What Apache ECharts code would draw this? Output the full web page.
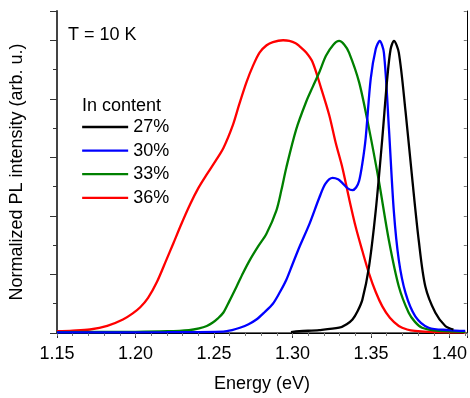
<!DOCTYPE html>
<html>
<head>
<meta charset="utf-8">
<script src="https://cdn.jsdelivr.net/npm/echarts@6/dist/echarts.min.js"></script>
<style>
html,body{margin:0;padding:0;background:#fff;}
#c{width:470px;height:398px;}
</style>
</head>
<body>
<div id="c"></div>
<script>
// Data (energy in eV, normalized intensity)
var seriesNames = ['27%', '30%', '33%', '36%'];
var seriesColors = ['#000000', '#0000ff', '#008000', '#ff0000'];

var e27 = [1.299, 1.3044, 1.317, 1.3297, 1.3345, 1.3382, 1.3415, 1.3445, 1.3487, 1.353, 1.3572, 1.3603, 1.3625, 1.3646, 1.3677, 1.372, 1.3762, 1.3804, 1.3846, 1.391, 1.3973, 1.4025];
var i27 = [0.003, 0.006, 0.010, 0.018, 0.030, 0.046, 0.075, 0.114, 0.226, 0.418, 0.666, 0.868, 0.970, 0.998, 0.958, 0.756, 0.530, 0.316, 0.159, 0.069, 0.024, 0.012];

var e30 = [1.15, 1.22, 1.256, 1.2615, 1.2665, 1.272, 1.277, 1.282, 1.2875, 1.292, 1.296, 1.300, 1.3044, 1.3108, 1.3171, 1.321, 1.3255, 1.329, 1.3318, 1.335, 1.3382, 1.3405, 1.3424, 1.3445, 1.3466, 1.3498, 1.353, 1.3555, 1.3582, 1.3614, 1.3645, 1.3677, 1.372, 1.3782, 1.3867, 1.3994, 1.41];
var i30 = [0.002, 0.003, 0.005, 0.010, 0.018, 0.030, 0.046, 0.070, 0.100, 0.140, 0.181, 0.235, 0.294, 0.373, 0.463, 0.510, 0.530, 0.525, 0.512, 0.495, 0.488, 0.497, 0.519, 0.580, 0.666, 0.868, 0.970, 0.998, 0.958, 0.699, 0.418, 0.249, 0.136, 0.057, 0.018, 0.010, 0.007];

var e33 = [1.15, 1.20, 1.22, 1.234, 1.2405, 1.2454, 1.249, 1.2525, 1.256, 1.2597, 1.2644, 1.2685, 1.2728, 1.278, 1.2834, 1.2897, 1.293, 1.296, 1.3023, 1.3087, 1.3128, 1.317, 1.3213, 1.326, 1.3297, 1.333, 1.336, 1.3424, 1.3487, 1.355, 1.3614, 1.3677, 1.374, 1.378, 1.3825, 1.393, 1.41];
var i33 = [0.003, 0.004, 0.006, 0.010, 0.016, 0.024, 0.035, 0.050, 0.070, 0.108, 0.159, 0.205, 0.249, 0.295, 0.339, 0.418, 0.490, 0.564, 0.695, 0.790, 0.840, 0.890, 0.947, 0.985, 0.998, 0.985, 0.958, 0.857, 0.699, 0.519, 0.316, 0.159, 0.069, 0.038, 0.018, 0.007, 0.004];

var e36 = [1.15, 1.16, 1.171, 1.182, 1.192, 1.198, 1.203, 1.208, 1.2137, 1.2196, 1.224, 1.229, 1.2348, 1.240, 1.2454, 1.251, 1.256, 1.262, 1.266, 1.2707, 1.275, 1.279, 1.2835, 1.2875, 1.294, 1.298, 1.302, 1.3044, 1.3087, 1.3128, 1.318, 1.3234, 1.3275, 1.3318, 1.336, 1.3403, 1.3445, 1.3487, 1.353, 1.3572, 1.362, 1.3677, 1.373, 1.378, 1.39, 1.41];
var i36 = [0.006, 0.008, 0.012, 0.024, 0.046, 0.066, 0.088, 0.120, 0.175, 0.249, 0.305, 0.370, 0.440, 0.495, 0.542, 0.588, 0.632, 0.710, 0.780, 0.857, 0.915, 0.958, 0.983, 0.994, 1.000, 0.998, 0.990, 0.980, 0.958, 0.925, 0.840, 0.744, 0.650, 0.564, 0.460, 0.361, 0.280, 0.204, 0.140, 0.091, 0.052, 0.024, 0.012, 0.007, 0.003, 0.002];

var energies = [e27, e30, e33, e36];
var intensities = [i27, i30, i33, i36];

function pairs(xs, ys) {
  var out = [];
  for (var k = 0; k < xs.length; k++) out.push([xs[k], ys[k]]);
  return out;
}

var FONT = 'Liberation Sans, Arial, Helvetica, sans-serif';
var chart = echarts.init(document.getElementById('c'), null, {renderer: 'canvas'});

var series = seriesNames.map(function (n, idx) {
  return {
    name: n,
    type: 'line',
    xAxisIndex: 0,
    yAxisIndex: 0,
    data: pairs(energies[idx], intensities[idx]),
    symbol: 'none',
    showSymbol: false,
    smooth: 0.3,
    lineStyle: {color: seriesColors[idx], width: 2.3},
    itemStyle: {color: seriesColors[idx]},
    z: 10 - idx,
    animation: false
  };
});

var option = {
  animation: false,
  backgroundColor: '#fff',
  grid: {left: 56, right: 3, top: 11, bottom: 61, containLabel: false},
  xAxis: [{
    type: 'value', position: 'bottom', min: 1.15, max: 1.411, interval: 0.05,
    name: 'Energy (eV)', nameLocation: 'middle', nameGap: 42,
    nameTextStyle: {fontFamily: FONT, fontSize: 18, color: '#000'},
    axisLine: {show: true, lineStyle: {color: '#333', width: 1.5}},
    axisTick: {show: true, inside: false, length: 5, lineStyle: {color: '#333', width: 1}},
    minorTick: {show: true, splitNumber: 5, length: 3, lineStyle: {color: '#333', width: 1}},
    axisLabel: {show: true, fontFamily: FONT, fontSize: 18, color: '#000', margin: 12, showMaxLabel: false,
      formatter: function (v) { return v.toFixed(2); }},
    splitLine: {show: false}, minorSplitLine: {show: false}
  }, {
    type: 'value', position: 'top', min: 1.15, max: 1.411, interval: 0.05,
    axisLine: {show: true, lineStyle: {color: '#000', width: 1}},
    axisTick: {show: true, inside: true, length: 3, lineStyle: {color: '#777', width: 1}},
    minorTick: {show: true, splitNumber: 5, length: 3, lineStyle: {color: '#777', width: 1}},
    axisLabel: {show: false},
    splitLine: {show: false}
  }],
  yAxis: [{
    type: 'value', position: 'left', min: 0, max: 1.1, interval: 0.2,
    name: 'Normalized PL intensity (arb. u.)', nameLocation: 'middle', nameGap: 31,
    nameTextStyle: {fontFamily: FONT, fontSize: 18, color: '#000'},
    axisLine: {show: true, lineStyle: {color: '#444', width: 2}},
    axisTick: {show: true, inside: false, length: 7, lineStyle: {color: '#333', width: 1}},
    minorTick: {show: true, splitNumber: 2, length: 4, lineStyle: {color: '#333', width: 1}},
    axisLabel: {show: false},
    splitLine: {show: false}
  }, {
    type: 'value', position: 'right', min: 0, max: 1.1, interval: 0.2,
    axisLine: {show: true, lineStyle: {color: '#000', width: 1}},
    axisTick: {show: true, inside: true, length: 3, lineStyle: {color: '#777', width: 1}},
    minorTick: {show: true, splitNumber: 2, length: 3, lineStyle: {color: '#777', width: 1}},
    axisLabel: {show: false},
    splitLine: {show: false}
  }],
  legend: {
    show: true, orient: 'vertical', left: 81, top: 118, padding: 0,
    itemWidth: 46, itemHeight: 18, itemGap: 5.6,
    textStyle: {fontFamily: FONT, fontSize: 18, color: '#000'},
    itemStyle: {color: 'rgba(0,0,0,0)', borderColor: 'rgba(0,0,0,0)', borderWidth: 0, opacity: 0},
    lineStyle: {width: 2.3},
    data: seriesNames,
    selectedMode: false
  },
  graphic: [{
    type: 'text', left: 68, top: 26.5,
    style: {text: 'T = 10 K', font: '18px ' + FONT, fill: '#000'}
  }, {
    type: 'text', left: 82, top: 97,
    style: {text: 'In content', font: '18px ' + FONT, fill: '#000'}
  }],
  series: series
};
chart.setOption(option);
</script>
</body>
</html>
